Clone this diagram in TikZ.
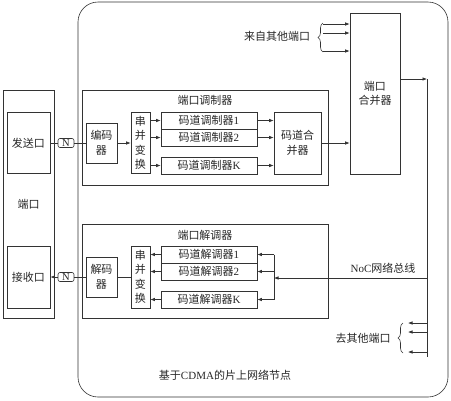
\documentclass[tikz,border=0pt]{standalone}
\usepackage{fontspec}
\setmainfont{Liberation Serif}
\newfontfamily\cjk{Noto Sans CJK SC}
\usetikzlibrary{arrows.meta,decorations.pathreplacing}

\begin{document}
\begin{tikzpicture}[x=1pt,y=-1pt,
		every node/.style={font=\cjk\fontsize{11}{14.5}\selectfont, text=black!85},
		box/.style={draw=black!80, line width=0.6pt, inner sep=0pt, align=center},
		nbox/.style={box, rounded corners=2pt, minimum width=16, minimum height=9, font=\rmfamily\fontsize{10.5}{10}\selectfont},
		line/.style={draw=black!80, line width=0.6pt},
		arr/.style={line, -{Latex[length=4.5pt,width=3.5pt]}},
		brace/.style={line, decorate, decoration={brace, amplitude=5pt}}]
	\useasboundingbox (0,0) rectangle (451,400);
	
	% node frame
	\node[box, rounded corners=20pt, minimum width=370, minimum height=395] (noc) at (263,199.5) {};
	\node (noclbl) at (225,375) {基于{\rmfamily CDMA}的片上网络节点};
	
	% port
	\node[box, minimum width=51, minimum height=228] (port) at (28.5,204) {端口};
	\node[box, minimum width=43, minimum height=61] (send) at (28.5,143) {发送口};
	\node[box, minimum width=43, minimum height=62] (recv) at (28.5,277) {接收口};
	\node[nbox] (n1) at (66,143) {N};
	\node[nbox] (n2) at (66,277) {N};
	
	% modulator
	\node[box, minimum width=246, minimum height=95] (mod) at (205,137.5) {};
	\node (modlbl) at (205,100) {端口调制器};
	\node[box, minimum width=31, minimum height=40] (enc) at (101.5,143) {编码\\器};
	\node[box, minimum width=19, minimum height=61] (sp1) at (140.5,143) {串\\并\\变\\换};
	\node[box, minimum width=96, minimum height=17] (m1) at (209,120.5) {码道调制器{\rmfamily 1}};
	\node[box, minimum width=96, minimum height=17] (m2) at (209,137.5) {码道调制器{\rmfamily 2}};
	\node[box, minimum width=96, minimum height=17] (mk) at (209,165.5) {码道调制器{\rmfamily K}};
	\node[box, minimum width=47, minimum height=62] (merge) at (297.5,143) {码道合\\并器};
	\node[box, minimum width=50, minimum height=161] (pm) at (375,93.5) {端口\\合并器};
	
	% demodulator
	\node[box, minimum width=246, minimum height=94] (demod) at (205,271) {};
	\node (demodlbl) at (205,235) {端口解调器};
	\node[box, minimum width=31, minimum height=40] (dec) at (101.5,277) {解码\\器};
	\node[box, minimum width=19, minimum height=62] (sp2) at (140.5,277) {串\\并\\变\\换};
	\node[box, minimum width=96, minimum height=17] (d1) at (209,254.5) {码道解调器{\rmfamily 1}};
	\node[box, minimum width=96, minimum height=17] (d2) at (209,271.5) {码道解调器{\rmfamily 2}};
	\node[box, minimum width=96, minimum height=17] (dk) at (209,299.5) {码道解调器{\rmfamily K}};
	
	% bus
	\coordinate (bt) at (427,79);
	\coordinate (bb) at (427,357);
	\coordinate (tap) at (427,278);
	\coordinate (fan) at (274,278);
	\node (buslbl) at (383,268) {{\rmfamily NoC}网络总线};
	\node (inlbl) at (277,36) {来自其他端口};
	\node (outlbl) at (363,338) {去其他端口};
	
	% send path
	\draw[line] (send) -- (n1) -- (enc);
	\draw[arr] (enc) -- (sp1);
	\foreach \m in {m1,m2,mk} {
		\draw[arr] (sp1.east |- \m) -- (\m);
		\draw[arr] (\m) -- (merge.west |- \m);
	}
	\draw[arr] (merge) -- (merge -| pm.west);
	\draw[brace] (323,52) -- (323,23);
	\foreach \y [count=\i] in {24,33,51} {
		\coordinate (in\i) at (323,\y);
		\draw[arr] (in\i) -- (in\i -| pm.west);
	}
	\draw[arr] (pm.east |- bt) -- (bt);
	\draw[line] (bt) -- (bb);
	
	% receive path
	\draw[arr] (tap) -- (fan);
	\draw[line] (fan |- d1) -- (fan |- dk);
	\foreach \d in {d1,d2,dk} {
		\draw[arr] (fan |- \d) -- (\d);
		\draw[arr] (\d) -- (sp2.east |- \d);
	}
	\draw[line] (sp2) -- (dec) -- (n2);
	\draw[arr] (n2) -- (recv);
	\draw[brace] (403,353) -- (403,323);
	\foreach \y [count=\i] in {323,332,352} {
		\coordinate (out\i) at (408,\y);
		\draw[arr] (bt |- out\i) -- (out\i);
	}
\end{tikzpicture}
\end{document}
